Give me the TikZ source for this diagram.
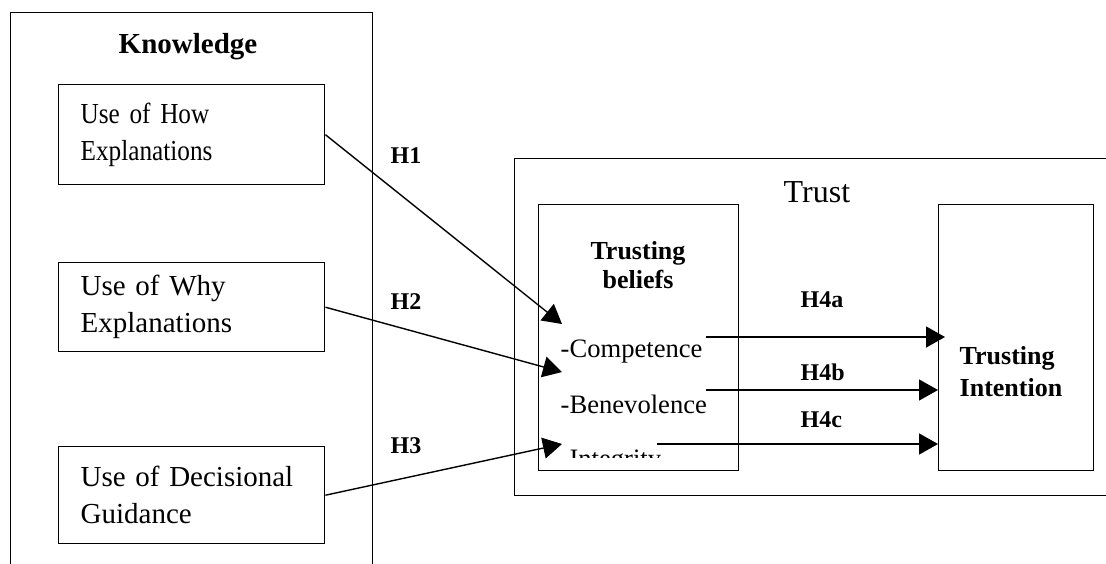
\documentclass[tikz,border=0pt]{standalone}
\usepackage{fontspec}
\setmainfont{Liberation Serif}
\newfontfamily\narrowfont[FakeStretch=0.87]{Liberation Serif}
\usetikzlibrary{arrows.meta}
\tikzset{
  box/.style={draw,anchor=north west,inner sep=0pt},
  kbox/.style={box,inner xsep=11pt,text width=111pt,minimum width=133pt,align=left,
    font=\fontsize{14.5}{18.5}\selectfont},
  item/.style={inner sep=0pt,anchor=base west,font=\fontsize{13.3}{16}\selectfont},
  hyp/.style={inner sep=0pt,anchor=base west,font=\bfseries\fontsize{12}{14}\selectfont},
  link/.style={-{Triangle[length=9.5pt,width=10.5pt]}}
}
\begin{document}
\begin{tikzpicture}[x=0.5pt,y=-0.5pt,line width=0.7pt]
\useasboundingbox (0,0) rectangle (1106,563);
\clip (0,0) rectangle (1106,563);
% knowledge
\node[box,minimum width=181pt,minimum height=284pt] (know) at (10,12) {};
\node[inner sep=0pt,anchor=base,font=\bfseries\fontsize{14.5}{17}\selectfont] (knowtitle) at (188,53) {Knowledge};
\node[kbox,minimum height=50pt,font=\narrowfont\fontsize{14.5}{18.5}\selectfont] (how) at (58,84) {Use of How\\Explanations};
\node[kbox,minimum height=44.5pt] (why) at (58,262) {Use of Why\\Explanations};
\node[kbox,minimum height=48.5pt] (dec) at (58,446) {Use of Decisional\\Guidance};
% trust
\node[box,minimum width=303pt,minimum height=168.5pt] (trust) at (514,158) {};
\node[item,font=\fontsize{16}{19}\selectfont] (trusttitle) at (783,202) {Trust};
\node[box,minimum width=100pt,minimum height=133pt] (beliefs) at (538,204) {};
\node[inner sep=0pt,anchor=north,align=center,font=\bfseries\fontsize{13}{14.5}\selectfont] (beliefstitle) at (638,241) {Trusting\\beliefs};
\node[item] (comp) at (560,357) {-Competence};
\node[item] (bene) at (560,413) {-Benevolence};
\scope
\clip (538,204) rectangle (738,457);
\node[item] (integ) at (560,467) {-Integrity};
\endscope
\node[box,minimum width=77.5pt,minimum height=133pt] (intent) at (938,204) {};
\node[inner sep=0pt,anchor=north west,align=left,font=\bfseries\fontsize{13}{16}\selectfont] (intenttitle) at (959,346) {Trusting\\Intention};
% arrows
\coordinate (h1end) at (562,324);
\coordinate (h2end) at (562,372);
\coordinate (h3end) at (562,444);
\coordinate (c4a) at (706,337);
\coordinate (c4b) at (706,390);
\coordinate (c4c) at (657,444);
\draw[link] (how.east) -- (h1end);
\draw[link] (why.east) -- (h2end);
\draw[link] (dec.east) -- (h3end);
\draw[link,shorten >=-3.5pt] (c4a) -- (intent.west |- c4a);
\draw[link] (c4b) -- (intent.west |- c4b);
\draw[link] (c4c) -- (intent.west |- c4c);
\node[hyp] (h1) at (390,163) {H1};
\node[hyp] (h2) at (390,309) {H2};
\node[hyp] (h3) at (390,453) {H3};
\node[hyp] (h4a) at (800,307) {H4a};
\node[hyp] (h4b) at (800,380) {H4b};
\node[hyp] (h4c) at (800,427) {H4c};
\end{tikzpicture}
\end{document}
